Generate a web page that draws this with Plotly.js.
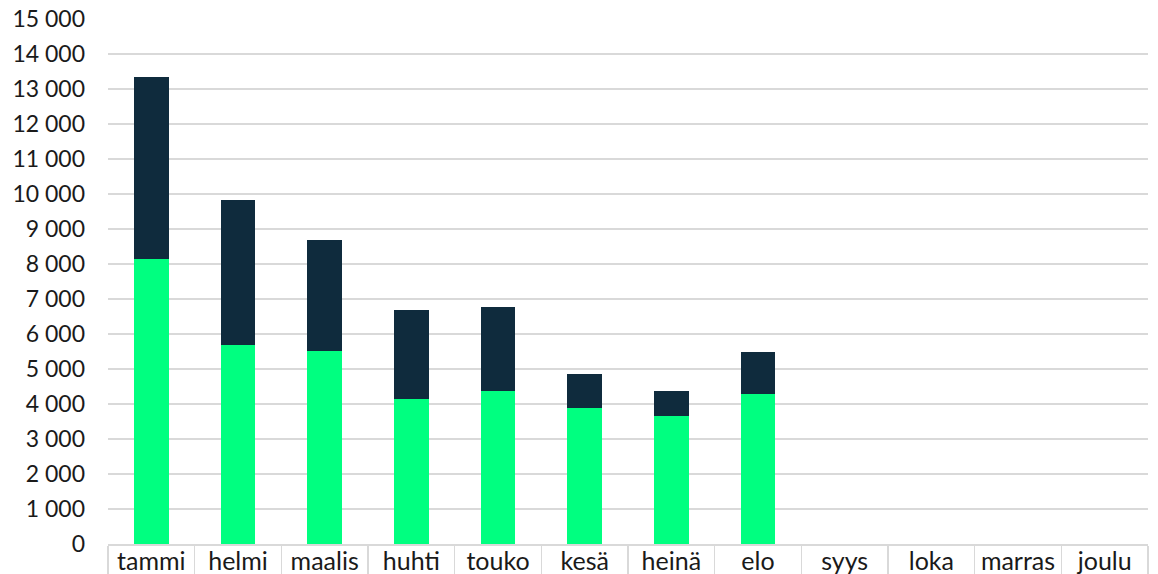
<!DOCTYPE html>
<html>
<head>
<meta charset="utf-8">
<script src="https://cdn.plot.ly/plotly-3.0.1.min.js"></script>
<style>html,body{margin:0;padding:0;background:#fff;}#chart{width:1158px;height:574px;}</style>
</head>
<body>
<div id="chart"></div>
<script>
const months = ["tammi","helmi","maalis","huhti","touko","kesä","heinä","elo","syys","loka","marras","joulu"];
const greenValues = [8140, 5690, 5510, 4140, 4370, 3890, 3660, 4290, null, null, null, null];
const darkValues  = [5210, 4140, 3180, 2560, 2410, 960, 710, 1200, null, null, null, null];
const yTickVals = [0,1000,2000,3000,4000,5000,6000,7000,8000,9000,10000,11000,12000,13000,14000,15000];
const yTickText = ["0","1 000","2 000","3 000","4 000","5 000","6 000","7 000","8 000","9 000","10 000","11 000","12 000","13 000","14 000","15 000"];

const traces = [
  {type:'bar', x:months, y:greenValues, marker:{color:'#00ff80'}, hoverinfo:'x+y'},
  {type:'bar', x:months, y:darkValues, marker:{color:'#0f2b3d'}, hoverinfo:'x+y'}
];
const layout = {
  width:1158, height:574,
  margin:{l:108, r:10, t:19, b:30},
  barmode:'stack', bargap:0.6,
  showlegend:false,
  paper_bgcolor:'#fff', plot_bgcolor:'#fff',
  font:{family:'Lato, "Open Sans", sans-serif', size:23, color:'#1a1a1a'},
  xaxis:{
    type:'category', categoryorder:'array', categoryarray:months,
    showgrid:false, showline:true, linecolor:'#d9d9d9', linewidth:1.5,
    ticks:'outside', tickson:'boundaries', ticklen:30, tickcolor:'#d9d9d9', tickwidth:1.5,
    ticklabelstandoff:-6,
    tickfont:{size:25}
  },
  yaxis:{
    range:[0,15000], tickvals:yTickVals, ticktext:yTickText,
    showgrid:true, gridcolor:'#d9d9d9', gridwidth:1.5,
    zeroline:false, showline:false, ticks:'',
    ticklabelstandoff:22,
    tickfont:{size:23}
  }
};
Plotly.newPlot('chart', traces, layout, {staticPlot:true, displayModeBar:false});
</script>
</body>
</html>
